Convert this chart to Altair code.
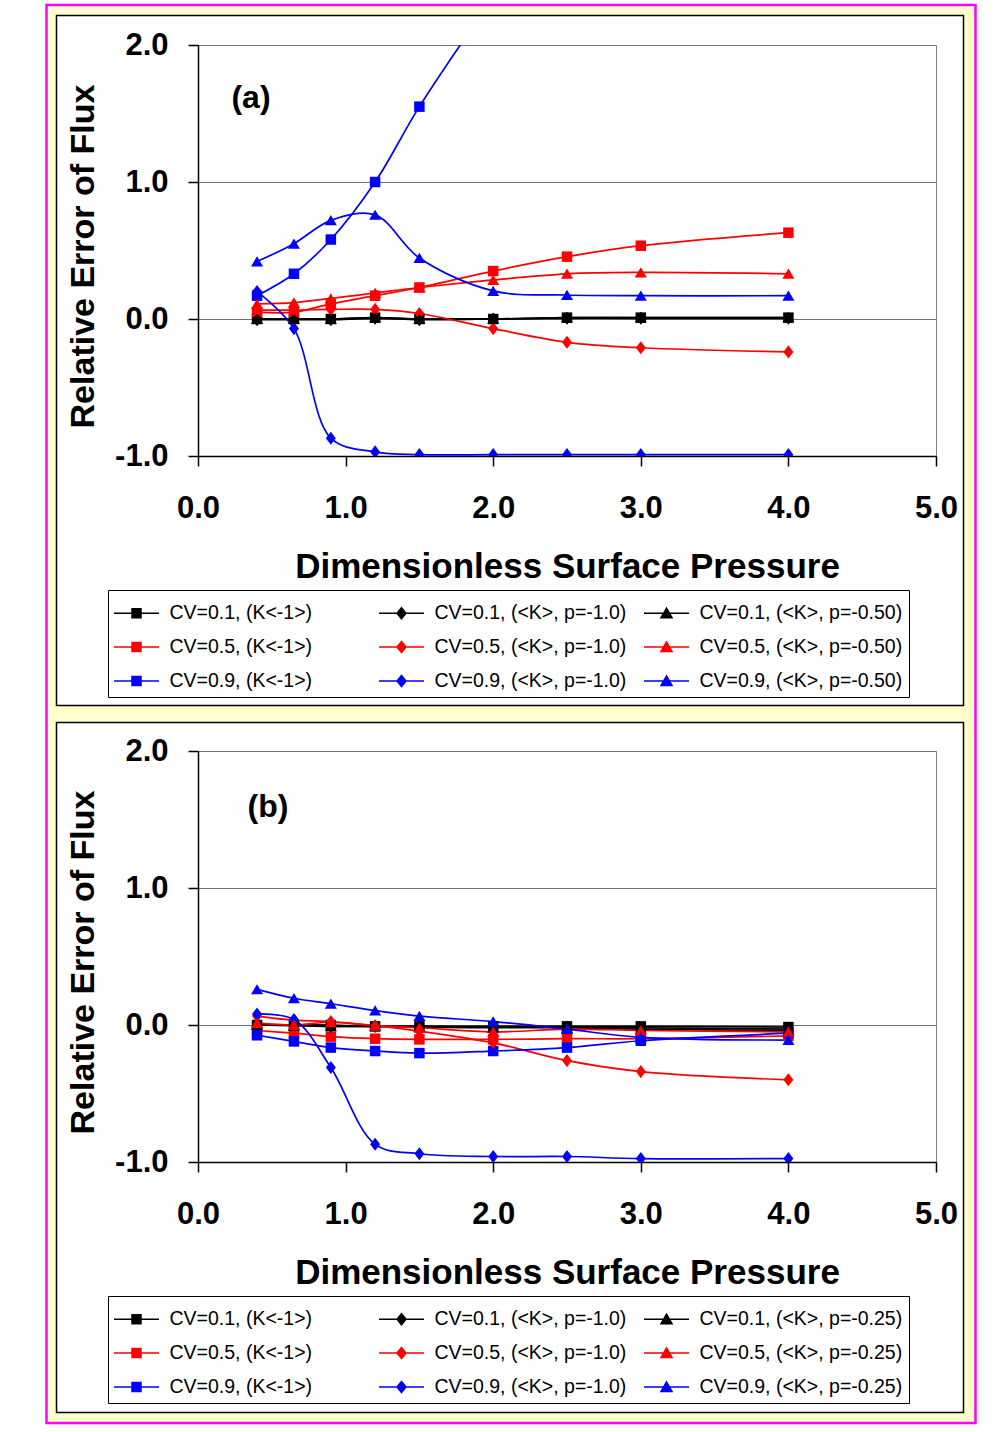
import altair as alt
import pandas as pd

# ---------------- data ----------------
x_vals = [0.4, 0.65, 0.9, 1.2, 1.5, 2.0, 2.5, 3.0, 4.0]

a_names = ["CV=0.1, (K<-1>)", "CV=0.1, (<K>, p=-1.0)", "CV=0.1, (<K>, p=-0.50)",
           "CV=0.5, (K<-1>)", "CV=0.5, (<K>, p=-1.0)", "CV=0.5, (<K>, p=-0.50)",
           "CV=0.9, (K<-1>)", "CV=0.9, (<K>, p=-1.0)", "CV=0.9, (<K>, p=-0.50)"]
b_names = ["CV=0.1, (K<-1>)", "CV=0.1, (<K>, p=-1.0)", "CV=0.1, (<K>, p=-0.25)",
           "CV=0.5, (K<-1>)", "CV=0.5, (<K>, p=-1.0)", "CV=0.5, (<K>, p=-0.25)",
           "CV=0.9, (K<-1>)", "CV=0.9, (<K>, p=-1.0)", "CV=0.9, (<K>, p=-0.25)"]

# panel (a)
a_cv01_k = [0.0, 0.0, 0.0, 0.01, 0.0, 0.0, 0.01, 0.01, 0.01]
a_cv01_p1 = [-0.005, -0.005, -0.005, 0.005, -0.005, 0.0, 0.005, 0.005, 0.005]
a_cv01_p2 = [0.0, 0.0, 0.0, 0.01, 0.0, 0.0, 0.01, 0.01, 0.01]
a_cv05_k = [0.05, 0.05, 0.11, 0.17, 0.23, 0.35, 0.455, 0.535, 0.63]
a_cv05_p1 = [0.065, 0.065, 0.07, 0.07, 0.04, -0.07, -0.17, -0.21, -0.24]
a_cv05_p2 = [0.11, 0.12, 0.15, 0.19, 0.23, 0.285, 0.33, 0.34, 0.33]
a_cv09_k = [0.17, 0.33, 0.58, 1.0, 1.55, 2.35, None, None, None]
a_cv09_p1 = [0.2, -0.07, -0.87, -0.97, -0.99, -0.99, -0.99, -0.99, -0.99]
a_cv09_p2 = [0.42, 0.55, 0.72, 0.76, 0.445, 0.205, 0.175, 0.17, 0.17]

# panel (b)
b_cv01_k = [0.0, 0.0, 0.0, -0.01, -0.01, -0.01, -0.01, -0.01, -0.015]
b_cv01_p1 = [0.0, 0.0, -0.01, -0.01, -0.01, -0.015, -0.015, -0.02, -0.03]
b_cv01_p2 = [0.0, -0.005, -0.01, -0.01, -0.015, -0.02, -0.02, -0.03, -0.04]
b_cv05_k = [-0.04, -0.06, -0.085, -0.1, -0.105, -0.105, -0.1, -0.1, -0.08]
b_cv05_p1 = [0.065, 0.035, 0.025, -0.005, -0.045, -0.13, -0.26, -0.34, -0.40]
b_cv05_p2 = [0.015, 0.0, 0.02, -0.005, -0.02, -0.05, -0.03, -0.04, -0.05]
b_cv09_k = [-0.075, -0.12, -0.165, -0.19, -0.205, -0.19, -0.165, -0.115, -0.06]
b_cv09_p1 = [0.08, 0.04, -0.31, -0.87, -0.94, -0.96, -0.96, -0.975, -0.975]
b_cv09_p2 = [0.26, 0.195, 0.155, 0.105, 0.065, 0.025, -0.03, -0.09, -0.11]

a_series = [a_cv01_k, a_cv01_p1, a_cv01_p2, a_cv05_k, a_cv05_p1, a_cv05_p2,
            a_cv09_k, a_cv09_p1, a_cv09_p2]
b_series = [b_cv01_k, b_cv01_p1, b_cv01_p2, b_cv05_k, b_cv05_p1, b_cv05_p2,
            b_cv09_k, b_cv09_p1, b_cv09_p2]

series_colors = ["#000000", "#000000", "#000000",
                 "#FF0000", "#FF0000", "#FF0000",
                 "#0000FF", "#0000FF", "#0000FF"]
series_markers = ["square", "diamond", "triangle"] * 3
panel_labels = ["(a)", "(b)"]
# legend fills column by column: K-column first, then p=-1.0, then p=-0.50/-0.25
legend_order = [0, 3, 6, 1, 4, 7, 2, 5, 8]

x_ticks = [0, 1, 2, 3, 4, 5]
y_ticks = [-1, 0, 1, 2]

# marker glyphs (plot) and line+marker glyphs (legend)
marker_paths = {
    "square": "M-1,-1H1V1H-1Z",
    "diamond": "M0,-1.25L0.95,0L0,1.25L-0.95,0Z",
    "triangle": "M0,-1L1.15,0.95L-1.15,0.95Z",
}
legend_paths = {
    "square": "M-1.385,0H1.385M-0.277,-0.277H0.277V0.277H-0.277Z",
    "diamond": "M-1.385,0H1.385M0,-0.34L0.277,0L0,0.34L-0.277,0Z",
    "triangle": "M-1.385,0H1.385M0,-0.31L0.34,0.277L-0.34,0.277Z",
}

FONT = "Liberation Sans"


def long_table(names, series):
    rows = []
    for name, marker, vals in zip(names, series_markers, series):
        for i, (xv, yv) in enumerate(zip(x_vals, vals)):
            if yv is None:
                continue
            rows.append({"x": xv, "value": yv, "series": name, "marker": marker, "order": i})
    return pd.DataFrame(rows)


def panel(names, series, label, label_pos):
    df = long_table(names, series)
    dom = [names[i] for i in legend_order]
    color_scale = alt.Scale(domain=dom, range=[series_colors[i] for i in legend_order])
    shape_scale = alt.Scale(domain=dom,
                            range=[legend_paths[series_markers[i]] for i in legend_order])

    X = alt.X("x:Q", scale=alt.Scale(domain=[0, 5], nice=False, zero=False),
              axis=alt.Axis(values=x_ticks, format=".1f", grid=False,
                            title="Dimensionless Surface Pressure",
                            titleX=369, titleY=110, titleBaseline="middle",
                            titleAlign="center", titleFontSize=35))
    Y = alt.Y("value:Q", scale=alt.Scale(domain=[-1, 2], nice=False, zero=False),
              axis=alt.Axis(values=y_ticks, grid=True,
                            labelExpr="datum.value < 0 ? '-' + format(-datum.value, '.1f') : format(datum.value, '.1f')",
                            title="Relative Error of Flux",
                            titleX=-115, titleY=211, titleAngle=-90,
                            titleBaseline="middle", titleAlign="center"))

    base = alt.Chart(df)
    lines = base.mark_line(interpolate="catmull-rom", strokeWidth=1.7, clip=True).encode(
        x=X, y=Y,
        stroke=alt.Stroke("series:N", scale=color_scale, legend=None),
        detail="series:N",
        order="order:Q",
    )
    point_layers = []
    for m in ["square", "diamond", "triangle"]:
        point_layers.append(
            base.transform_filter(alt.datum.marker == m).mark_point(
                shape=marker_paths[m], filled=True, size=110, opacity=1,
                strokeWidth=0, clip=True).encode(
                x=X, y=Y,
                fill=alt.Fill("series:N", scale=color_scale, legend=None),
            )
        )
    leg = base.mark_point(filled=True, opacity=0, size=1056, clip=True).encode(
        x=X, y=Y,
        fill=alt.Fill("series:N", scale=color_scale, legend=alt.Legend(title=None)),
        stroke=alt.Stroke("series:N", scale=color_scale, legend=alt.Legend(title=None)),
        shape=alt.Shape("series:N", scale=shape_scale, legend=alt.Legend(title=None)),
    )
    txt = alt.Chart(pd.DataFrame({"t": [label]})).mark_text(
        font=FONT, fontSize=32, fontWeight="bold", color="black").encode(
        text="t:N", x=alt.value(label_pos[0]), y=alt.value(label_pos[1]))
    return alt.layer(lines, *point_layers, txt, leg).resolve_scale(
        fill="independent", stroke="independent", shape="independent").properties(
        width=738, height=411,
        view=alt.ViewBackground(stroke="#808080", strokeWidth=1, fill="white"))


chart_a = panel(a_names, a_series, panel_labels[0], (53, 53))
chart_b = panel(b_names, b_series, panel_labels[1], (70, 56))

panels = alt.vconcat(chart_a, chart_b, spacing=295, bounds="flush").resolve_scale(
    fill="independent", stroke="independent", shape="independent")

deco_base = alt.Chart(pd.DataFrame({"k": [0]}))
outer = deco_base.mark_rect(fill="#FFFFCC", stroke="#FF00FF", strokeWidth=2.5).encode(
    x=alt.value(-0.5), x2=alt.value(928.5), y=alt.value(-40), y2=alt.value(1378))
frame_a = deco_base.mark_rect(fill="white", stroke="black", strokeWidth=1.5).encode(
    x=alt.value(9.5), x2=alt.value(916.5), y=alt.value(-29.5), y2=alt.value(660.5))
frame_b = deco_base.mark_rect(fill="white", stroke="black", strokeWidth=1.5).encode(
    x=alt.value(9.5), x2=alt.value(916.5), y=alt.value(677.5), y2=alt.value(1367.5))
deco = alt.layer(outer, frame_a, frame_b).properties(
    width=1, height=1, view=alt.ViewBackground(stroke="transparent"))

chart = alt.hconcat(deco, panels, spacing=150, bounds="flush").properties(
    padding={"left": 44, "top": 3, "right": 5, "bottom": 5},
    background="white",
).configure_axis(
    labelFont=FONT, labelFontSize=31, labelFontWeight="bold", labelColor="black",
    titleFont=FONT, titleFontSize=34, titleFontWeight="bold", titleColor="black",
    domainColor="black", domainWidth=1.5, tickColor="black", tickWidth=1.5, tickSize=10,
    gridColor="#707070", gridWidth=1, labelFlush=False, labelOverlap=False,
).configure_axisX(labelPadding=27).configure_axisY(labelPadding=20).configure_legend(
    orient="none", legendX=-90, legendY=545, columns=3, gridAlign="all",
    columnPadding=2, rowPadding=7, padding=6, strokeColor="black", fillColor="white",
    labelFont=FONT, labelFontSize=19.5, labelColor="black", labelLimit=400, labelOffset=16,
    symbolSize=1056, symbolOffset=5.5, symbolStrokeWidth=1.5, symbolOpacity=1,
    symbolFillColor="black", symbolStrokeColor="black",
)

chart.save("out.html", embed_options={"renderer": "svg", "actions": False})
